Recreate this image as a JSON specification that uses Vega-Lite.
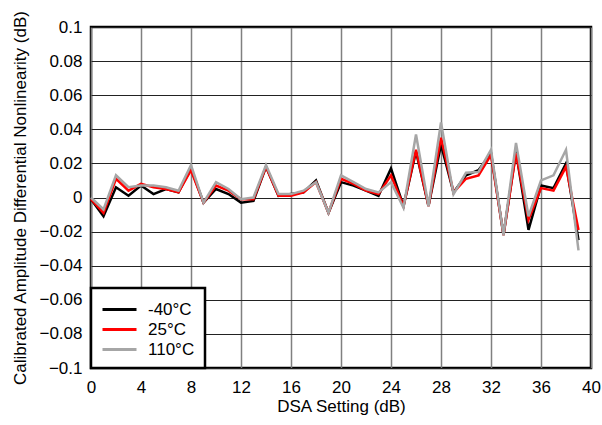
{
  "$schema": "https://vega.github.io/schema/vega-lite/v6.json",
  "width": 500,
  "height": 341,
  "autosize": {"type": "none"},
  "padding": {"left": 91, "top": 27, "right": 11, "bottom": 57},
  "background": "white",
  "config": {
    "font": "Liberation Sans",
    "view": {"stroke": "black", "strokeWidth": 2.5}
  },
  "datasets": {
    "d": [
      {"x": 0, "t": "-40°C", "v": -0.001}, {"x": 1, "t": "-40°C", "v": -0.011}, {"x": 2, "t": "-40°C", "v": 0.006}, {"x": 3, "t": "-40°C", "v": 0.001},
      {"x": 4, "t": "-40°C", "v": 0.007}, {"x": 5, "t": "-40°C", "v": 0.002}, {"x": 6, "t": "-40°C", "v": 0.005}, {"x": 7, "t": "-40°C", "v": 0.003},
      {"x": 8, "t": "-40°C", "v": 0.017}, {"x": 9, "t": "-40°C", "v": -0.003}, {"x": 10, "t": "-40°C", "v": 0.005}, {"x": 11, "t": "-40°C", "v": 0.002},
      {"x": 12, "t": "-40°C", "v": -0.003}, {"x": 13, "t": "-40°C", "v": -0.002}, {"x": 14, "t": "-40°C", "v": 0.018}, {"x": 15, "t": "-40°C", "v": 0.001},
      {"x": 16, "t": "-40°C", "v": 0.002}, {"x": 17, "t": "-40°C", "v": 0.003}, {"x": 18, "t": "-40°C", "v": 0.010}, {"x": 19, "t": "-40°C", "v": -0.009},
      {"x": 20, "t": "-40°C", "v": 0.009}, {"x": 21, "t": "-40°C", "v": 0.007}, {"x": 22, "t": "-40°C", "v": 0.004}, {"x": 23, "t": "-40°C", "v": 0.001},
      {"x": 24, "t": "-40°C", "v": 0.017}, {"x": 25, "t": "-40°C", "v": -0.005}, {"x": 26, "t": "-40°C", "v": 0.027}, {"x": 27, "t": "-40°C", "v": -0.005},
      {"x": 28, "t": "-40°C", "v": 0.031}, {"x": 29, "t": "-40°C", "v": 0.003}, {"x": 30, "t": "-40°C", "v": 0.013}, {"x": 31, "t": "-40°C", "v": 0.016},
      {"x": 32, "t": "-40°C", "v": 0.026}, {"x": 33, "t": "-40°C", "v": -0.022}, {"x": 34, "t": "-40°C", "v": 0.027}, {"x": 35, "t": "-40°C", "v": -0.019},
      {"x": 36, "t": "-40°C", "v": 0.007}, {"x": 37, "t": "-40°C", "v": 0.0055}, {"x": 38, "t": "-40°C", "v": 0.020}, {"x": 39, "t": "-40°C", "v": -0.025},

      {"x": 0, "t": "25°C", "v": -0.001}, {"x": 1, "t": "25°C", "v": -0.009}, {"x": 2, "t": "25°C", "v": 0.011}, {"x": 3, "t": "25°C", "v": 0.004},
      {"x": 4, "t": "25°C", "v": 0.008}, {"x": 5, "t": "25°C", "v": 0.006}, {"x": 6, "t": "25°C", "v": 0.005}, {"x": 7, "t": "25°C", "v": 0.003},
      {"x": 8, "t": "25°C", "v": 0.016}, {"x": 9, "t": "25°C", "v": -0.003}, {"x": 10, "t": "25°C", "v": 0.007}, {"x": 11, "t": "25°C", "v": 0.004},
      {"x": 12, "t": "25°C", "v": -0.001}, {"x": 13, "t": "25°C", "v": -0.001}, {"x": 14, "t": "25°C", "v": 0.018}, {"x": 15, "t": "25°C", "v": 0.001},
      {"x": 16, "t": "25°C", "v": 0.001}, {"x": 17, "t": "25°C", "v": 0.003}, {"x": 18, "t": "25°C", "v": 0.009}, {"x": 19, "t": "25°C", "v": -0.009},
      {"x": 20, "t": "25°C", "v": 0.011}, {"x": 21, "t": "25°C", "v": 0.008}, {"x": 22, "t": "25°C", "v": 0.004}, {"x": 23, "t": "25°C", "v": 0.002},
      {"x": 24, "t": "25°C", "v": 0.013}, {"x": 25, "t": "25°C", "v": -0.005}, {"x": 26, "t": "25°C", "v": 0.028}, {"x": 27, "t": "25°C", "v": -0.005},
      {"x": 28, "t": "25°C", "v": 0.035}, {"x": 29, "t": "25°C", "v": 0.003}, {"x": 30, "t": "25°C", "v": 0.011}, {"x": 31, "t": "25°C", "v": 0.013},
      {"x": 32, "t": "25°C", "v": 0.025}, {"x": 33, "t": "25°C", "v": -0.022}, {"x": 34, "t": "25°C", "v": 0.026}, {"x": 35, "t": "25°C", "v": -0.013},
      {"x": 36, "t": "25°C", "v": 0.0055}, {"x": 37, "t": "25°C", "v": 0.004}, {"x": 38, "t": "25°C", "v": 0.018}, {"x": 39, "t": "25°C", "v": -0.019},

      {"x": 0, "t": "110°C", "v": 0.0}, {"x": 1, "t": "110°C", "v": -0.007}, {"x": 2, "t": "110°C", "v": 0.013}, {"x": 3, "t": "110°C", "v": 0.006},
      {"x": 4, "t": "110°C", "v": 0.007}, {"x": 5, "t": "110°C", "v": 0.007}, {"x": 6, "t": "110°C", "v": 0.006}, {"x": 7, "t": "110°C", "v": 0.004},
      {"x": 8, "t": "110°C", "v": 0.019}, {"x": 9, "t": "110°C", "v": -0.003}, {"x": 10, "t": "110°C", "v": 0.009}, {"x": 11, "t": "110°C", "v": 0.005},
      {"x": 12, "t": "110°C", "v": -0.001}, {"x": 13, "t": "110°C", "v": 0.0}, {"x": 14, "t": "110°C", "v": 0.019}, {"x": 15, "t": "110°C", "v": 0.002},
      {"x": 16, "t": "110°C", "v": 0.002}, {"x": 17, "t": "110°C", "v": 0.004}, {"x": 18, "t": "110°C", "v": 0.009}, {"x": 19, "t": "110°C", "v": -0.009},
      {"x": 20, "t": "110°C", "v": 0.013}, {"x": 21, "t": "110°C", "v": 0.009}, {"x": 22, "t": "110°C", "v": 0.005}, {"x": 23, "t": "110°C", "v": 0.003},
      {"x": 24, "t": "110°C", "v": 0.009}, {"x": 25, "t": "110°C", "v": -0.006}, {"x": 26, "t": "110°C", "v": 0.037}, {"x": 27, "t": "110°C", "v": -0.005},
      {"x": 28, "t": "110°C", "v": 0.044}, {"x": 29, "t": "110°C", "v": 0.002}, {"x": 30, "t": "110°C", "v": 0.0145}, {"x": 31, "t": "110°C", "v": 0.015},
      {"x": 32, "t": "110°C", "v": 0.028}, {"x": 33, "t": "110°C", "v": -0.022}, {"x": 34, "t": "110°C", "v": 0.032}, {"x": 35, "t": "110°C", "v": -0.011},
      {"x": 36, "t": "110°C", "v": 0.010}, {"x": 37, "t": "110°C", "v": 0.013}, {"x": 38, "t": "110°C", "v": 0.028}, {"x": 39, "t": "110°C", "v": -0.031}
    ]
  },
  "data": {"name": "d"},
  "mark": {"type": "line", "strokeWidth": 2.5, "strokeJoin": "miter"},
  "encoding": {
    "x": {
      "field": "x", "type": "quantitative",
      "scale": {"domain": [0, 40], "nice": false, "zero": false},
      "axis": {
        "title": "DSA Setting (dB)", "values": [0, 4, 8, 12, 16, 20, 24, 28, 32, 36, 40],
        "domain": false, "ticks": false, "labelFontSize": 17, "labelColor": "black",
        "labelPadding": 11, "labelFlush": false,
        "titleFontSize": 17, "titleFontWeight": "normal", "titleColor": "black", "titlePadding": 3,
        "grid": true, "gridColor": "#808080", "gridWidth": 1.5, "gridOpacity": 1
      }
    },
    "y": {
      "field": "v", "type": "quantitative",
      "scale": {"domain": [-0.1, 0.1], "nice": false, "zero": false},
      "axis": {
        "title": "Calibrated Amplitude Differential Nonlinearity (dB)",
        "values": [-0.1, -0.08, -0.06, -0.04, -0.02, 0, 0.02, 0.04, 0.06, 0.08, 0.1],
        "format": "~g",
        "domain": false, "ticks": false, "labelFontSize": 17, "labelColor": "black",
        "labelPadding": 9, "labelFlush": false,
        "titleFontSize": 17, "titleFontWeight": "normal", "titleColor": "black", "titlePadding": 9,
        "grid": true, "gridColor": "#222222", "gridWidth": 1, "gridOpacity": 1
      }
    },
    "color": {
      "field": "t", "type": "nominal",
      "scale": {"domain": ["-40°C", "25°C", "110°C"], "range": ["#000000", "#ff0000", "#a6a6a6"]},
      "legend": {
        "title": null, "orient": "bottom-left", "offset": 0,
        "fillColor": "white", "strokeColor": "black",
        "padding": 10, "symbolType": "M-1,0H2.4", "symbolStrokeWidth": 3, "symbolSize": 400,
        "labelFontSize": 17, "labelColor": "black", "labelOffset": 24, "rowPadding": 0,
        "encode": {"legend": {"update": {"strokeWidth": {"value": 2.5}}}}
      }
    }
  }
}
